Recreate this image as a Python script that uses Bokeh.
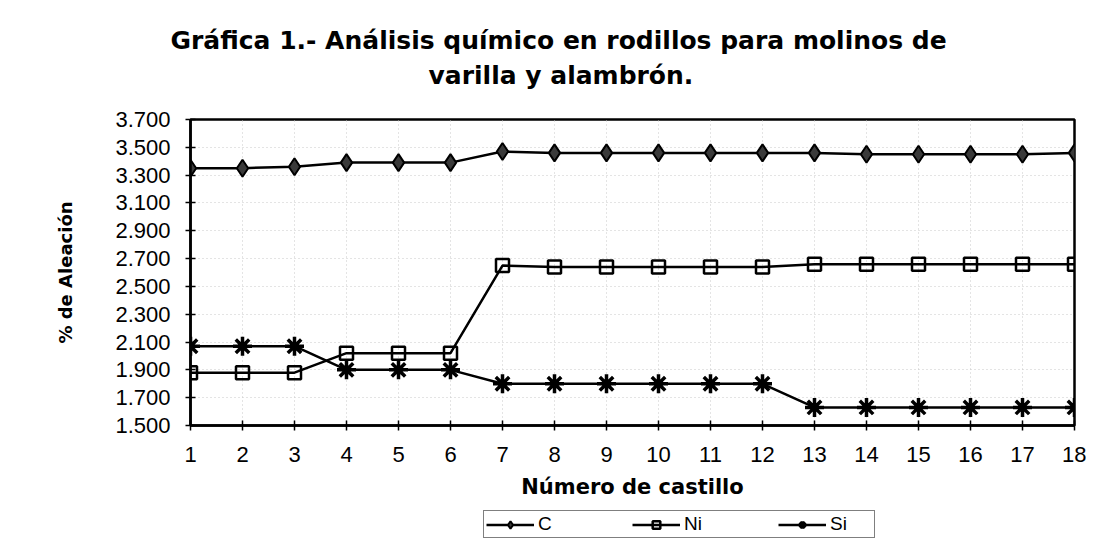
from bokeh.plotting import figure
from bokeh.layouts import column
from bokeh.models import (Range1d, FixedTicker, NumeralTickFormatter, Legend, LegendItem, Title)
from bokeh.embed import file_html
from bokeh.resources import INLINE

castillo = list(range(1, 19))
c_vals = [3.35, 3.35, 3.36, 3.39, 3.39, 3.39, 3.47, 3.46, 3.46, 3.46, 3.46, 3.46, 3.46, 3.45, 3.45, 3.45, 3.45, 3.46]
ni_vals = [1.88, 1.88, 1.88, 2.02, 2.02, 2.02, 2.65, 2.64, 2.64, 2.64, 2.64, 2.64, 2.66, 2.66, 2.66, 2.66, 2.66, 2.66]
si_vals = [2.07, 2.07, 2.07, 1.90, 1.90, 1.90, 1.80, 1.80, 1.80, 1.80, 1.80, 1.80, 1.63, 1.63, 1.63, 1.63, 1.63, 1.63]
y_ticks = [1.5, 1.7, 1.9, 2.1, 2.3, 2.5, 2.7, 2.9, 3.1, 3.3, 3.5, 3.7]
series_names = ["C", "Ni", "Si"]

title_1 = "Gráfica 1.- Análisis químico en rodillos para molinos de"
title_2 = "varilla y alambrón."
x_label = "Número de castillo"
y_label = "% de Aleación"

BORDER_L, BORDER_R = 190, 12

p = figure(width=1086, height=505, output_backend="svg", toolbar_location=None,
           x_range=Range1d(1, 18), y_range=Range1d(1.5, 3.7),
           min_border_left=BORDER_L, min_border_right=BORDER_R, min_border_top=119, min_border_bottom=80,
           background_fill_color="white", border_fill_color="white")

# titles: spacer closest to the frame, then line 2, then line 1
spacer = Title(text=" ", text_font_size="1px", standoff=25, text_color="white")
t2 = Title(text=title_2, align="left", offset=238, text_font="DejaVu Sans",
           text_font_size="25px", text_font_style="bold", text_color="black", standoff=4)
t1 = Title(text=title_1, align="left", offset=-20, text_font="DejaVu Sans",
           text_font_size="25px", text_font_style="bold", text_color="black", standoff=4)
p.add_layout(spacer, "above")
p.add_layout(t2, "above")
p.add_layout(t1, "above")

p.outline_line_color = "black"
p.outline_line_width = 2.5

# grid
p.xgrid.grid_line_color = "#c8c8c8"
p.xgrid.grid_line_dash = "1 3"
p.ygrid.grid_line_color = "#c8c8c8"
p.ygrid.grid_line_dash = "1 3"

# axes
p.xaxis.ticker = FixedTicker(ticks=castillo)
p.yaxis.ticker = FixedTicker(ticks=y_ticks)
p.yaxis.formatter = NumeralTickFormatter(format="0.000")
for ax in (p.xaxis[0], p.yaxis[0]):
    ax.axis_line_color = "black"
    ax.axis_line_width = 2.5
    ax.major_tick_line_color = "black"
    ax.major_tick_line_width = 1.5
    ax.major_tick_in = 5
    ax.major_tick_out = 5
    ax.minor_tick_line_color = None
    ax.major_label_text_font = "Liberation Sans"
    ax.major_label_text_font_size = "22px"
    ax.major_label_text_color = "black"
    ax.axis_label_text_font = "DejaVu Sans"
    ax.axis_label_text_font_style = "bold"
    ax.axis_label_text_color = "black"
p.xaxis.axis_label = x_label
p.xaxis.axis_label_text_font_size = "21px"
p.xaxis.major_label_standoff = 16
p.xaxis.axis_label_standoff = 10
p.yaxis.axis_label = y_label
p.yaxis.axis_label_text_font_size = "18px"
p.yaxis.major_label_standoff = 15
p.yaxis.axis_label_standoff = 36

# series
def draw_series(fig, vals, marker, size, fill, lw):
    ln = fig.line(castillo, vals, line_color="black", line_width=2.5)
    mk = fig.scatter(castillo, vals, marker=marker, size=size, fill_color=fill,
                     fill_alpha=0 if fill is None else 1, line_color="black", line_width=lw)
    return [ln, mk]

styles = [("diamond", 17, "#3a3a3a", 2), ("square", 13, None, 2.5), ("asterisk", 19, None, 3.5)]
for vals, st in zip([c_vals, ni_vals, si_vals], styles):
    draw_series(p, vals, *st)

# legend strip below the chart (same side borders as the chart)
pl = figure(width=1086, height=34, output_backend="svg", toolbar_location=None,
            x_range=Range1d(-10, -9), y_range=Range1d(-10, -9),
            x_axis_location=None, y_axis_location=None,
            min_border_left=BORDER_L, min_border_right=BORDER_R, min_border_top=0, min_border_bottom=0,
            background_fill_color="white", border_fill_color="white")
pl.xgrid.visible = False
pl.ygrid.visible = False
pl.outline_line_color = None
items = []
for name, vals, st in zip(series_names, [c_vals, ni_vals, si_vals], styles):
    items.append(LegendItem(label=name, renderers=draw_series(pl, vals, *st)))
legend = Legend(items=items, orientation="horizontal", location=(293, 1),
                border_line_color="black", border_line_width=1.5,
                background_fill_color="white", background_fill_alpha=1,
                label_text_font="Liberation Sans", label_text_font_size="19px",
                label_text_color="black", glyph_width=48, glyph_height=19,
                label_standoff=4, label_width=42, label_height=19,
                spacing=52, padding=2, margin=0)
pl.add_layout(legend, "center")

layout = column(p, pl, spacing=0)
open("out.html", "w").write(file_html(layout, INLINE))
